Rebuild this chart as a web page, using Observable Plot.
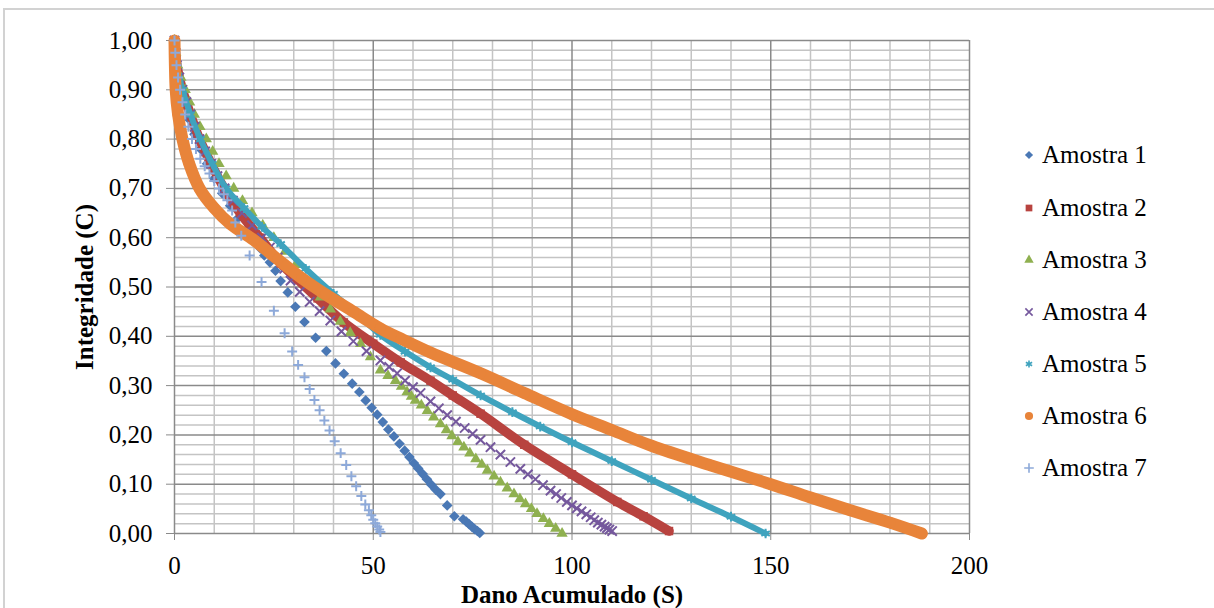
<!DOCTYPE html>
<html><head><meta charset="utf-8">
<script src="https://cdn.jsdelivr.net/npm/d3@7"></script>
<script src="https://cdn.jsdelivr.net/npm/@observablehq/plot@0.6"></script>
<style>
body{margin:0;background:#fff;}
#wrap{position:relative;width:1214px;height:608px;overflow:hidden;font-family:"Liberation Serif","Times New Roman",serif;}
#border{position:absolute;left:3px;top:8px;width:1300px;height:700px;border:2px solid #d2d2d2;box-sizing:border-box;}
#chart{position:absolute;left:0;top:0;}
.item{position:absolute;left:1020px;height:30px;display:flex;align-items:center;white-space:nowrap;font-size:25px;color:#000;}
.item svg{margin-right:4px;}
</style></head><body>
<div id="wrap"><div id="border"></div><div id="chart"></div><div id="legend"></div></div>
<script>
const seriesNames = ["Amostra 1","Amostra 2","Amostra 3","Amostra 4","Amostra 5","Amostra 6","Amostra 7"];
const colors = ["#4A78B5","#B8433F","#8FB050","#75589D","#3FA3BE","#E8843A","#8DA9D9"];

const s1S = [0,0.3,0.8,1.5,2.5,3.7,5,6.5,8.2,10,12,14,16,18,20,21.6,22.6,24.0,25.4,26.7,28.5,30.4,32.7,35.5,38.2,40.5,42.6,44.7,46.5,48.1,49.6,51.0,52.4,53.8,55.2,56.6,57.9,59.1,60.2,61.3,62.4,63.5,64.6,65.7,66.9,68.6,70.4,72.6,73.4,74.1,74.8,75.5,76.2,76.8];
const s1C = [1,0.96,0.93,0.9,0.87,0.84,0.81,0.78,0.75,0.72,0.69,0.665,0.64,0.615,0.595,0.578,0.564,0.550,0.533,0.512,0.489,0.460,0.429,0.397,0.370,0.345,0.324,0.304,0.287,0.270,0.255,0.241,0.226,0.211,0.197,0.182,0.168,0.155,0.143,0.132,0.121,0.110,0.099,0.089,0.080,0.057,0.035,0.029,0.024,0.019,0.014,0.009,0.005,0.001];

const s2S = [0,0.6,2,4,6.3,9.2,12.5,16.5,21.5,26.7,31,36,42.6,50,56.9,64.4,70,77,88,100,111.4,118,124.4];
const s2C = [1,0.95,0.9,0.85,0.8,0.75,0.7,0.65,0.6,0.548,0.515,0.477,0.428,0.385,0.347,0.31,0.28,0.243,0.18,0.12,0.064,0.035,0.005];

const s3S = [0,0.3,0.8,1.6,2.7,3.8,5,6.4,8,9.6,11.2,13,14.9,17.1,19.5,22.2,25,27.8,30.5,33.5,36.7,39.2,41.7,44.2,46.8,49.3,51.8,53.7,55.6,57.1,58.5,59.6,60.6,62.1,63.6,65.2,66.9,68.4,69.8,71.3,72.8,74.3,75.8,77.3,78.7,80.4,82.0,83.7,85.4,86.9,88.3,89.8,91.2,92.8,94.3,95.9,97.5];
const s3C = [1,0.975,0.95,0.925,0.9,0.875,0.85,0.825,0.8,0.775,0.75,0.725,0.7,0.675,0.65,0.625,0.6,0.572,0.545,0.512,0.479,0.455,0.43,0.407,0.385,0.358,0.331,0.32,0.31,0.298,0.287,0.278,0.27,0.26,0.249,0.236,0.222,0.21,0.198,0.186,0.175,0.163,0.151,0.14,0.128,0.116,0.104,0.092,0.08,0.07,0.06,0.05,0.04,0.03,0.02,0.01,0.0];

const s4S = [0,0.3,0.6,1.2,2,3,4,5.1,6.3,7.7,9.2,10.8,12.6,14.7,17,19.5,22,24,26,27.6,29.2,31.5,34,36.5,39.2,42,45,48.3,51.8,54,56,58,60,61.9,64.4,66.5,68.6,70.8,73,75,77,79.5,82,84.5,87,88.9,90.8,92.7,94.6,96,97.3,98.7,100,101.2,102.4,103.6,104.7,105.6,106.5,107.4,108.2,108.8,109.4,110.1];
const s4C = [1,0.975,0.95,0.925,0.9,0.875,0.85,0.825,0.8,0.775,0.75,0.725,0.7,0.675,0.65,0.625,0.6,0.58,0.56,0.537,0.513,0.49,0.47,0.451,0.432,0.41,0.39,0.37,0.351,0.338,0.325,0.31,0.297,0.285,0.268,0.254,0.24,0.227,0.214,0.202,0.19,0.175,0.16,0.145,0.131,0.12,0.11,0.098,0.087,0.08,0.072,0.064,0.057,0.051,0.045,0.039,0.033,0.027,0.022,0.018,0.014,0.011,0.008,0.005];

const s5S = [0,0.6,2,4,6.5,9.5,13,17.5,22,26.7,33,40,45,51.8,58,64.4,70,77,85,92,100,110,120,130,140,148.7];
const s5C = [1,0.95,0.9,0.85,0.8,0.75,0.7,0.66,0.622,0.587,0.537,0.486,0.452,0.403,0.369,0.337,0.312,0.28,0.246,0.217,0.185,0.147,0.109,0.071,0.034,0.0];

const s6S = [0,0.1,0.3,0.9,2.0,3.7,6.3,10,14,20,26,32,38,45,51.8,57,64.4,77,88,100,110,120,135,150,160,170,180,188];
const s6C = [1,0.95,0.9,0.85,0.8,0.75,0.7,0.66,0.628,0.595,0.556,0.518,0.485,0.45,0.416,0.395,0.367,0.325,0.285,0.242,0.21,0.178,0.138,0.10,0.073,0.047,0.022,0.0];

const s7S = [0,0.2,0.5,0.9,1.4,2.0,2.7,3.5,4.4,5.4,6.5,7.6,8.8,10.0,11.2,12.4,13.3,14.5,15.3,16.8,18.9,21.9,25.0,27.7,29.6,31.1,32.7,34.0,35.2,36.5,37.7,39.0,40.3,41.8,43.2,44.5,45.7,47.0,48.0,48.9,49.5,50.0,50.5,51.0,51.5,51.8];
const s7C = [1,0.975,0.95,0.925,0.9,0.875,0.85,0.825,0.8,0.78,0.76,0.745,0.73,0.715,0.70,0.688,0.676,0.655,0.631,0.604,0.564,0.510,0.452,0.406,0.369,0.342,0.317,0.293,0.271,0.250,0.229,0.209,0.187,0.163,0.139,0.116,0.096,0.076,0.059,0.047,0.037,0.028,0.021,0.014,0.008,0.003];

const xMajor = [0,50,100,150,200];
const xMinor = [10,20,30,40,60,70,80,90,110,120,130,140,160,170,180,190];
const yMajor = [0,0.1,0.2,0.3,0.4,0.5,0.6,0.7,0.8,0.9,1.0];
const yMinor = [0.02,0.04,0.06,0.08,0.12,0.14,0.16,0.18,0.22,0.24,0.26,0.28,0.32,0.34,0.36,0.38,0.42,0.44,0.46,0.48,0.52,0.54,0.56,0.58,0.62,0.64,0.66,0.68,0.72,0.74,0.76,0.78,0.82,0.84,0.86,0.88,0.92,0.94,0.96,0.98];

const allS = [s1S,s2S,s3S,s4S,s5S,s6S,s7S];
const allC = [s1C,s2C,s3C,s4C,s5C,s6C,s7C];
const data = seriesNames.map((name,i) => allS[i].map((s,j) => ({series:name, S:s, C:allC[i][j]})));

const symbols = ["diamond2","square","triangle","times","asterisk","circle","plus"];
const radii = [4.8,4.8,4.2,4.3,4.6,5.6,3.3];
const stroked = [false,false,false,true,true,false,true];
const lineW = [0,9.5,0,0,6,12,0];

const fmt = d => d.toFixed(2).replace(".", ",");

const marks = [
  Plot.ruleX(xMinor, {stroke:"#c4c4c4", strokeWidth:1.5}),
  Plot.ruleY(yMinor, {stroke:"#c4c4c4", strokeWidth:1.5}),
  Plot.ruleX(xMajor, {stroke:"#8a8a8a", strokeWidth:1.5}),
  Plot.ruleY(yMajor, {stroke:"#8a8a8a", strokeWidth:1.5}),
  Plot.axisX({ticks:xMajor, tickSize:7, tickPadding:16, tickFormat:d=>String(d), stroke:"#8a8a8a", fill:"#000", label:null, fontSize:25}),
  Plot.axisY({ticks:yMajor, tickSize:8, tickPadding:14, tickFormat:fmt, stroke:"#8a8a8a", fill:"#000", label:null, fontSize:25})
];
data.forEach((d,i) => {
  if (lineW[i] > 0) marks.push(Plot.line(d, {x:"S", y:"C", stroke:colors[i], strokeWidth:lineW[i], strokeLinecap:"round", curve:"catmull-rom"}));
  if (stroked[i]) marks.push(Plot.dot(d, {x:"S", y:"C", symbol:symbols[i], r:radii[i], stroke:colors[i], strokeWidth:2}));
  else marks.push(Plot.dot(d, {x:"S", y:"C", symbol:symbols[i], r:radii[i], fill:colors[i], stroke:"none"}));
});
marks.push(Plot.text(["Dano Acumulado (S)"], {frameAnchor:"bottom", dy:61, textAnchor:"middle", lineAnchor:"middle", fontWeight:"bold", fontSize:25, fill:"#000"}));
marks.push(Plot.text(["Integridade (C)"], {frameAnchor:"left", dx:-90, rotate:-90, textAnchor:"middle", lineAnchor:"middle", fontWeight:"bold", fontSize:25, fill:"#000"}));

const chart = Plot.plot({
  width:1214, height:608,
  marginLeft:174, marginRight:245, marginTop:40, marginBottom:75,
  x:{domain:[0,200]}, y:{domain:[0,1]},
  style:{fontFamily:"'Liberation Serif', 'Times New Roman', serif", fontSize:"25px", color:"#000", background:"transparent", overflow:"visible"},
  marks
});
document.getElementById("chart").appendChild(chart);

// legend
const legendY = [155,208,260,312,364,416,468];
const symTypes = [d3.symbolDiamond2,d3.symbolSquare,d3.symbolTriangle,d3.symbolTimes,d3.symbolAsterisk,d3.symbolCircle,d3.symbolPlus];
const symSizes = [42,45,38,36,36,52,32];
const leg = d3.select("#legend");
seriesNames.forEach((name,i) => {
  const item = leg.append("div").attr("class","item").style("top",(legendY[i]-15)+"px");
  const svg = item.append("svg").attr("width",18).attr("height",30);
  const p = svg.append("path").attr("transform","translate(9,15)").attr("d", d3.symbol(symTypes[i], symSizes[i])());
  if (stroked[i]) p.attr("fill","none").attr("stroke",colors[i]).attr("stroke-width",1.6);
  else p.attr("fill",colors[i]);
  item.append("span").text(name);
});
</script></body></html>
